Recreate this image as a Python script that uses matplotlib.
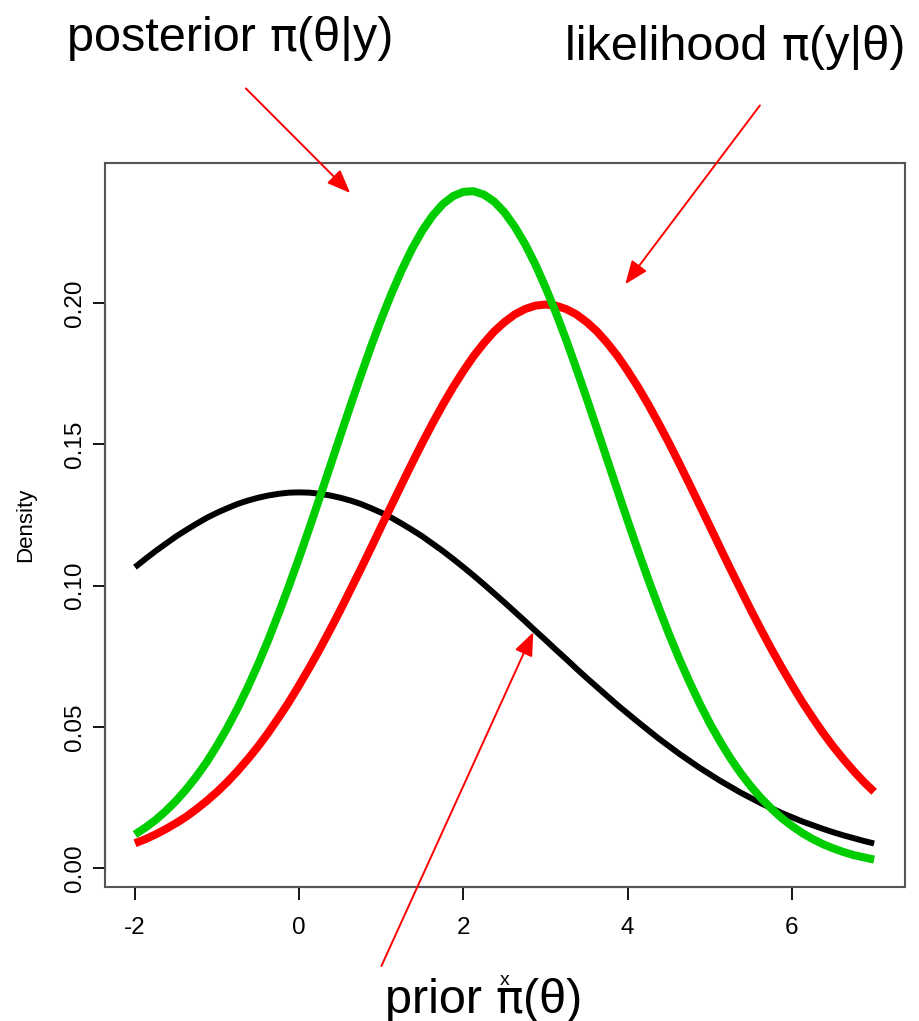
import numpy as np
import matplotlib
matplotlib.use("Agg")
import matplotlib.pyplot as plt
import matplotlib.transforms as mtransforms
from matplotlib.offsetbox import TextArea, HPacker, AnnotationBbox

plt.rcParams['font.family'] = ['Liberation Sans', 'DejaVu Sans']

# theta grid (step 0.125 from -2 to 7) and density values
theta = np.linspace(-2, 7, 73)

prior = [0.1065, 0.1094, 0.1122, 0.1148, 0.1174, 0.1197, 0.1219, 0.1240, 0.1258,
         0.1274, 0.1289, 0.1301, 0.1311, 0.1319, 0.1325, 0.1329, 0.1330, 0.1329,
         0.1325, 0.1319, 0.1311, 0.1301, 0.1289, 0.1274, 0.1258, 0.1240, 0.1219,
         0.1197, 0.1174, 0.1148, 0.1122, 0.1094, 0.1065, 0.1035, 0.1004, 0.0972,
         0.0940, 0.0907, 0.0874, 0.0840, 0.0807, 0.0773, 0.0740, 0.0706, 0.0673,
         0.0641, 0.0609, 0.0577, 0.0547, 0.0517, 0.0488, 0.0459, 0.0432, 0.0405,
         0.0380, 0.0355, 0.0332, 0.0309, 0.0288, 0.0267, 0.0248, 0.0229, 0.0212,
         0.0195, 0.0180, 0.0165, 0.0152, 0.0139, 0.0127, 0.0116, 0.0106, 0.0096,
         0.0087]

likelihood = [0.0088, 0.0102, 0.0119, 0.0138, 0.0159, 0.0182, 0.0209, 0.0238, 0.0270,
              0.0305, 0.0344, 0.0386, 0.0431, 0.0480, 0.0533, 0.0588, 0.0648, 0.0710,
              0.0775, 0.0843, 0.0913, 0.0986, 0.1059, 0.1134, 0.1210, 0.1285, 0.1360,
              0.1434, 0.1506, 0.1575, 0.1641, 0.1703, 0.1760, 0.1813, 0.1859, 0.1900,
              0.1933, 0.1960, 0.1979, 0.1991, 0.1995, 0.1991, 0.1979, 0.1960, 0.1933,
              0.1900, 0.1859, 0.1813, 0.1760, 0.1703, 0.1641, 0.1575, 0.1506, 0.1434,
              0.1360, 0.1285, 0.1210, 0.1134, 0.1059, 0.0986, 0.0913, 0.0843, 0.0775,
              0.0710, 0.0648, 0.0588, 0.0533, 0.0480, 0.0431, 0.0386, 0.0344, 0.0305,
              0.0270]

posterior = [0.0119, 0.0143, 0.0170, 0.0202, 0.0238, 0.0279, 0.0325, 0.0376, 0.0434,
             0.0497, 0.0566, 0.0641, 0.0722, 0.0809, 0.0902, 0.0999, 0.1100, 0.1205,
             0.1312, 0.1421, 0.1530, 0.1638, 0.1744, 0.1847, 0.1944, 0.2035, 0.2118,
             0.2193, 0.2257, 0.2310, 0.2351, 0.2379, 0.2394, 0.2396, 0.2384, 0.2359,
             0.2321, 0.2270, 0.2209, 0.2137, 0.2055, 0.1966, 0.1870, 0.1768, 0.1663,
             0.1555, 0.1446, 0.1337, 0.1229, 0.1124, 0.1022, 0.0924, 0.0830, 0.0742,
             0.0660, 0.0583, 0.0512, 0.0448, 0.0389, 0.0336, 0.0289, 0.0247, 0.0210,
             0.0177, 0.0149, 0.0124, 0.0103, 0.0085, 0.0070, 0.0057, 0.0046, 0.0038,
             0.0030]

xticks = [-2, 0, 2, 4, 6]
yticks = [0.00, 0.05, 0.10, 0.15, 0.20]
ytick_labels = ['0.00', '0.05', '0.10', '0.15', '0.20']

W, H = 919, 1021
fig = plt.figure(figsize=(W / 100, H / 100), dpi=100)
ax = fig.add_axes([105 / W, 1 - 887 / H, 800 / W, 724 / H])

ax.plot(theta, prior, color='black', lw=4.3, solid_capstyle='butt')
ax.plot(theta, likelihood, color='#ff0000', lw=5.8, solid_capstyle='butt')
ax.plot(theta, posterior, color='#00cd00', lw=5.8, solid_capstyle='butt')

ax.set_xlim(-2.365, 7.376)
ax.set_ylim(-0.0067, 0.2496)

for s in ax.spines.values():
    s.set_color('#555555')
    s.set_linewidth(1.5)

# R style axis lines from first to last tick
tb = mtransforms.blended_transform_factory(ax.transData, ax.transAxes)
ax.plot([xticks[0], xticks[-1]], [0, 0], color='black', lw=1.5, transform=tb, clip_on=False)
tl = mtransforms.blended_transform_factory(ax.transAxes, ax.transData)
ax.plot([0, 0], [yticks[0], yticks[-1]], color='black', lw=1.5, transform=tl, clip_on=False)

ax.set_xticks(xticks)
ax.set_xticklabels([str(t) for t in xticks])
ax.set_yticks(yticks)
ax.set_yticklabels(ytick_labels, rotation=90, va='center')
ax.tick_params(axis='both', length=9, width=1.3, color='black', labelsize=17.5)
ax.tick_params(axis='x', pad=12.5)
ax.tick_params(axis='y', pad=5)

ax.set_ylabel('Density', fontsize=16, labelpad=20)
ax.set_xlabel('x', fontsize=14, labelpad=24)


def big_label(parts, cx, cy):
    kids = [TextArea(s, textprops=dict(fontsize=sz, family=fam)) for s, fam, sz in parts]
    box = HPacker(children=kids, align='baseline', pad=0, sep=0)
    ab = AnnotationBbox(box, (cx, H - cy), xycoords='figure pixels',
                        box_alignment=(0.5, 0.5), frameon=False, pad=0)
    fig.add_artist(ab)


big_label([('posterior ', 'Liberation Sans', 35), ('π', 'DejaVu Sans', 33),
           ('(θ|y)', 'Liberation Sans', 35)], 230, 38)
big_label([('likelihood ', 'Liberation Sans', 35), ('π', 'DejaVu Sans', 33),
           ('(y|θ)', 'Liberation Sans', 35)], 735, 47)
big_label([('prior ', 'Liberation Sans', 35), ('π', 'DejaVu Sans', 33),
           ('(θ)', 'Liberation Sans', 35)], 484, 1000)

arrow = dict(arrowstyle='-|>,head_length=0.55,head_width=0.22', mutation_scale=26,
             color='#ff0000', lw=1.4, shrinkA=0, shrinkB=0)
ax.annotate('', xy=(0.62, 0.239), xytext=(-0.65, 0.276), arrowprops=arrow,
            annotation_clip=False)
ax.annotate('', xy=(3.97, 0.2067), xytext=(5.61, 0.270), arrowprops=arrow,
            annotation_clip=False)
ax.annotate('', xy=(2.85, 0.0835), xytext=(1.0, -0.0347), arrowprops=arrow,
            annotation_clip=False)

fig.savefig('out.png', dpi=100)
